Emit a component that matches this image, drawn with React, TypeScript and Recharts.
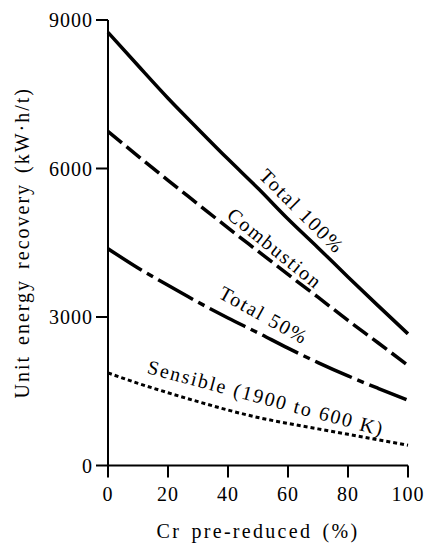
import { LineChart, Line, XAxis, YAxis, ReferenceDot } from 'recharts';

const crReduced = [0, 10, 20, 30, 40, 50, 60, 70, 80, 90, 100];
const total100 = [8750, 8080, 7420, 6800, 6190, 5600, 4980, 4400, 3810, 3230, 2660];
const combustion = [6750, 6250, 5760, 5280, 4800, 4330, 3860, 3400, 2930, 2480, 2020];
const total50 = [4380, 3990, 3640, 3300, 2980, 2680, 2370, 2080, 1810, 1560, 1320];
const sensible = [1870, 1660, 1470, 1290, 1120, 970, 850, 740, 630, 520, 410];

const xTicks = [0, 20, 40, 60, 80, 100];
const yTicks = [0, 3000, 6000, 9000];

// curve annotations: [x, y, text, angle]
const notes: [number, number, string, number][] = [
  [64.7, 5140, 'Total 100%', 45],
  [55.7, 4390, 'Combustion', 39],
  [52, 3040, 'Total 50%', 29],
  [52.7, 1365, 'Sensible (1900 to 600 K)', 15],
];

const data = crReduced.map((x, i) => ({
  x,
  total100: total100[i],
  combustion: combustion[i],
  total50: total50[i],
  sensible: sensible[i],
}));

const FONT = 'Liberation Serif, Times New Roman, serif';
const tickStyle = { fill: '#000', fontSize: 20, fontFamily: FONT, letterSpacing: 1 };

const rotLabel = (text: string, angle: number) => (props: any) => {
  const { x, y } = props.viewBox;
  return (
    <text
      x={x}
      y={y}
      transform={`rotate(${angle}, ${x}, ${y})`}
      textAnchor="middle"
      dominantBaseline="central"
      style={{ fontFamily: FONT, fontSize: 20, letterSpacing: 1.8 }}
      fill="#000"
    >
      {text}
    </text>
  );
};

export default function App() {
  return (
    <div style={{ position: 'absolute', left: 0, top: 0, background: '#fff', fontFamily: FONT }}>
      <LineChart
        width={427}
        height={550}
        data={data}
        margin={{ top: 20, right: 19, bottom: 0, left: 0 }}
        style={{ fontFamily: FONT }}
      >
        <XAxis
          dataKey="x"
          type="number"
          domain={[0, 100]}
          ticks={xTicks}
          height={84.5}
          tickSize={12}
          tickMargin={9}
          tick={tickStyle}
          stroke="#000"
          strokeWidth={2}
          label={{
            value: 'Cr pre-reduced (%)',
            position: 'insideBottom',
            offset: 12,
            style: { fill: '#000', fontSize: 20, fontFamily: FONT, letterSpacing: 2.3, wordSpacing: 3 },
          }}
        />
        <YAxis
          type="number"
          domain={[0, 9000]}
          ticks={yTicks}
          width={108}
          tickSize={12}
          tickMargin={3}
          tick={tickStyle}
          stroke="#000"
          strokeWidth={2}
          label={{
            value: 'Unit energy recovery (kW·h/t)',
            angle: -90,
            position: 'insideLeft',
            offset: 22,
            style: { fill: '#000', fontSize: 20, fontFamily: FONT, letterSpacing: 2, wordSpacing: 3, textAnchor: 'middle' },
          }}
        />
        <Line type="monotone" dataKey="total100" stroke="#000" strokeWidth={3.5} dot={false} isAnimationActive={false} />
        <Line type="monotone" dataKey="combustion" stroke="#000" strokeWidth={3.5} strokeDasharray="18 6" dot={false} isAnimationActive={false} />
        <Line type="monotone" dataKey="total50" stroke="#000" strokeWidth={3.5} strokeDasharray="40 6 7 6" dot={false} isAnimationActive={false} />
        <Line type="monotone" dataKey="sensible" stroke="#000" strokeWidth={3} strokeDasharray="4 3" dot={false} isAnimationActive={false} />
        {notes.map(([x, y, text, angle]) => (
          <ReferenceDot key={text} x={x} y={y} r={0} stroke="none" fill="none" label={rotLabel(text, angle)} />
        ))}
      </LineChart>
    </div>
  );
}
